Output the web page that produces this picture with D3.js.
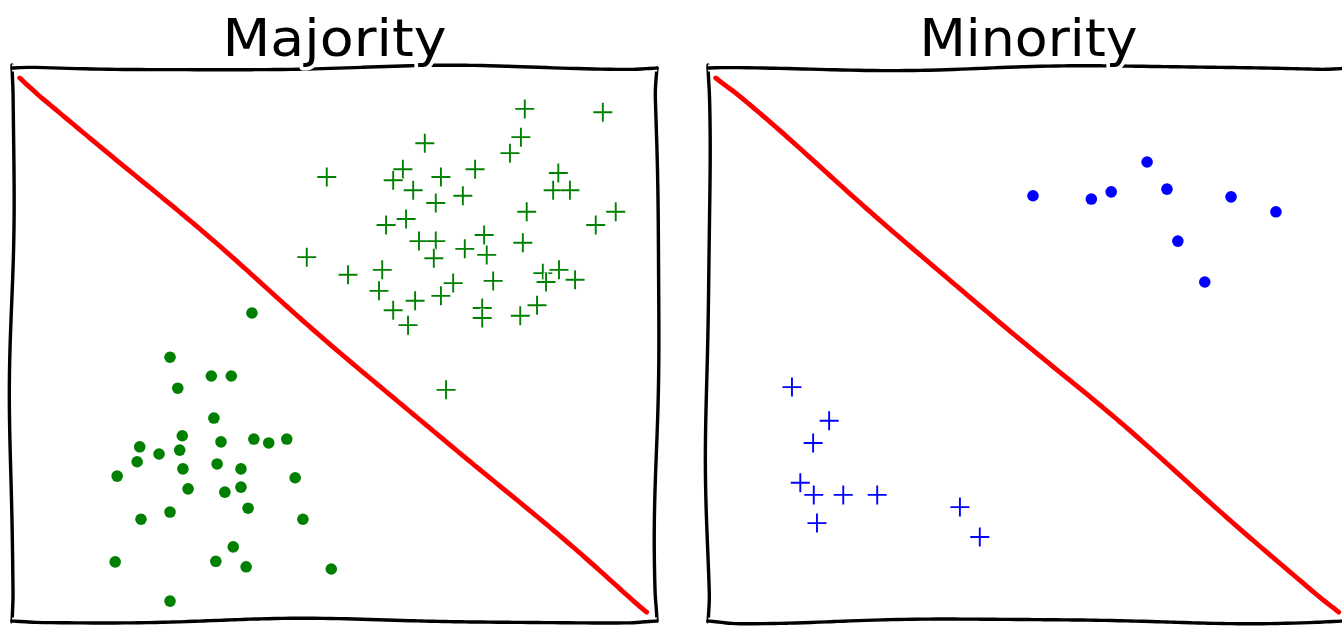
<!DOCTYPE html>
<html><head><meta charset="utf-8">
<script src="https://cdn.jsdelivr.net/npm/d3@7"></script>
<style>html,body{margin:0;padding:0;background:#fff;} svg{display:block;}</style>
</head><body>
<svg id="chart" width="1342" height="626"></svg>
<script>
// ---------- data ----------
const panelTitles = ["Majority", "Minority"];
const xDomain = [0, 10];
const yDomain = [0, 10];

// Majority panel: class A (circles) and class B (pluses)
const majCircleX = [3.72,2.45,3.09,3.40,2.57,3.13,2.64,3.24,3.75,3.98,4.26,1.98,2.28,2.60,1.94,3.18,2.65,3.55,1.63,4.39,2.73,3.30,3.55,3.66,2.45,2.00,4.51,3.43,1.60,3.16,3.63,4.95,2.45];
const majCircleY = [5.57,4.77,4.43,4.43,4.21,3.67,3.35,3.24,3.29,3.22,3.29,3.15,3.02,3.09,2.88,2.84,2.75,2.75,2.62,2.59,2.39,2.33,2.42,2.04,1.97,1.84,1.84,1.34,1.07,1.08,0.98,0.94,0.36];
const majPlusX = [7.95,9.16,6.40,7.89,7.72,4.88,6.06,5.91,6.65,7.18,8.47,6.22,6.57,6.99,8.39,8.65,7.98,9.36,9.05,5.80,6.11,6.31,6.57,7.32,7.92,7.02,7.36,6.54,4.57,5.21,5.74,5.69,6.84,7.46,8.23,8.48,8.73,8.28,6.65,6.25,5.91,6.14,7.29,7.29,7.88,8.14,6.73];
const majPlusY = [9.26,9.20,8.64,8.75,8.46,8.03,8.17,7.97,8.03,8.17,8.10,7.79,7.56,7.69,7.79,7.79,7.40,7.40,7.16,7.16,7.27,6.87,6.87,6.98,6.84,6.73,6.62,6.56,6.58,6.26,6.35,5.97,6.11,6.15,6.29,6.35,6.17,6.13,5.88,5.79,5.62,5.35,5.66,5.48,5.52,5.71,4.18];

// Minority panel
const minCircleX = [5.07,5.98,6.29,6.85,7.16,7.33,8.16,8.86,7.75];
const minCircleY = [7.69,7.63,7.76,8.30,7.81,6.87,7.67,7.40,6.13];
const minPlusX = [1.31,1.89,1.64,1.44,1.65,2.11,2.64,1.70,3.93,4.24];
const minPlusY = [4.23,3.62,3.22,2.50,2.28,2.28,2.28,1.77,2.06,1.52];

// decision boundary (same in both panels)
const boundaryX = [0.12, 9.84];
const boundaryY = [9.82, 0.16];

// ---------- layout ----------
const panels = [
  {title: panelTitles[0], left: 12, right: 657, top: 68, bottom: 621,
   cx: majCircleX, cy: majCircleY, px: majPlusX, py: majPlusY, circleColor: "#008000", plusColor: "#008000", seed: 0.7},
  {title: panelTitles[1], left: 708, right: 1349, top: 68, bottom: 621,
   cx: minCircleX, cy: minCircleY, px: minPlusX, py: minPlusY, circleColor: "#0000ff", plusColor: "#0000ff", seed: 2.9}
];

const svg = d3.select("#chart");
svg.append("rect").attr("width", 1342).attr("height", 626).attr("fill", "#fff");

// hand-drawn (xkcd-like) wobble along a straight segment
function sketch(pts, amp, seed, wl) {
  const [x0, y0] = pts[0], [x1, y1] = pts[1];
  const L = Math.hypot(x1 - x0, y1 - y0);
  const nx = -(y1 - y0) / L, ny = (x1 - x0) / L;
  const n = Math.max(2, Math.ceil(L / 8));
  const out = [];
  for (let i = 0; i <= n; i++) {
    const t = i / n, s = t * L;
    const env = Math.min(1, s / 25, (L - s) / 25);
    const off = amp * env * (0.8 * Math.sin(s / wl + seed) + 0.2 * Math.sin(s / (wl * 0.5) + seed * 2.3));
    out.push([x0 + (x1 - x0) * t + nx * off, y0 + (y1 - y0) * t + ny * off]);
  }
  return out;
}
const line = d3.line().curve(d3.curveBasis);

panels.forEach((p, pi) => {
  const x = d3.scaleLinear().domain(xDomain).range([p.left, p.right]);
  const y = d3.scaleLinear().domain(yDomain).range([p.bottom, p.top]);
  const g = svg.append("g");

  // decision boundary
  const bpts = boundaryX.map((v, i) => [x(v), y(boundaryY[i])]);
  const bd = line(sketch(bpts, 2.0, p.seed + 1.1, 75));
  g.append("path").attr("d", bd)
    .attr("fill", "none").attr("stroke", "#fff").attr("stroke-width", 9).attr("stroke-linecap", "round");
  g.append("path").attr("d", bd)
    .attr("fill", "none").attr("stroke", "#ff0000").attr("stroke-width", 4.8).attr("stroke-linecap", "round");

  // pluses
  const plusData = p.px.map((v, i) => [v, p.py[i]]);
  const pg = g.append("g").selectAll("g").data(plusData).join("g")
    .attr("transform", d => `translate(${x(d[0])},${y(d[1])})`);
  const plusPath = "M-9.5,0H9.5M0,-9.5V9.5";
  pg.append("path").attr("d", plusPath).attr("stroke", "#fff").attr("stroke-width", 5).attr("fill", "none");
  pg.append("path").attr("d", plusPath).attr("stroke", p.plusColor).attr("stroke-width", 1.9).attr("fill", "none");

  // circles
  const circData = p.cx.map((v, i) => [v, p.cy[i]]);
  const cg = g.append("g").selectAll("g").data(circData).join("g")
    .attr("transform", d => `translate(${x(d[0])},${y(d[1])})`);
  cg.append("circle").attr("r", 5.8).attr("fill", "#fff").attr("stroke", "#fff").attr("stroke-width", 4);
  cg.append("circle").attr("r", 5.8).attr("fill", p.circleColor);

  // spines
  const sp = [
    [[p.left, p.bottom + 1], [p.left, p.top - 3]],
    [[p.right, p.bottom], [p.right, p.top]],
    [[p.left, p.top], [p.right, p.top]],
    [[p.left, p.bottom], [p.right, p.bottom]]
  ];
  sp.forEach((s, k) => {
    const d = line(sketch(s, 2.8, p.seed * 3 + k * 1.7, 80));
    g.append("path").attr("d", d)
      .attr("fill", "none").attr("stroke", "#fff").attr("stroke-width", 7);
    g.append("path").attr("d", d)
      .attr("fill", "none").attr("stroke", "#000").attr("stroke-width", 3.4).attr("stroke-linecap", "round");
  });

  // title
  g.append("text").attr("x", (p.left + p.right) / 2).attr("y", 56)
    .attr("text-anchor", "middle")
    .attr("font-family", "'DejaVu Sans', sans-serif").attr("font-size", 52)
    .attr("textLength", pi === 0 ? 224 : 218).attr("lengthAdjust", "spacingAndGlyphs")
    .attr("fill", "#000").attr("stroke", "#fff").attr("stroke-width", 7)
    .attr("paint-order", "stroke").attr("stroke-linejoin", "round")
    .text(p.title);
});
</script>
</body></html>
